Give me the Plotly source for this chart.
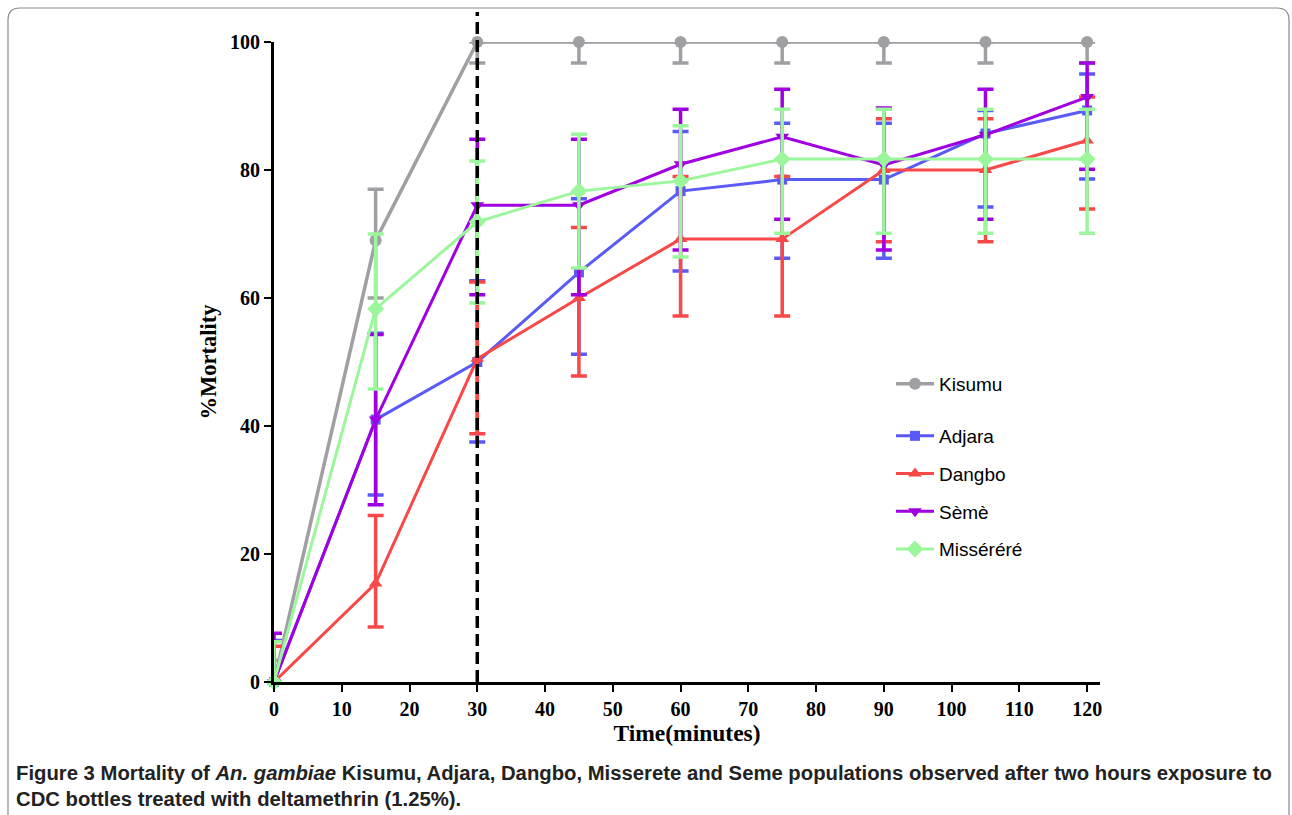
import plotly.graph_objects as go

time_min = [0, 15, 30, 45, 60, 75, 90, 105, 120]

kisumu = [0, 69, 100, 100, 100, 100, 100, 100, 100]
kisumu_hi = [3.4, 77, 100, 100, 100, 100, 100, 100, 100]
kisumu_lo = [0, 60, 96.7, 96.7, 96.7, 96.7, 96.7, 96.7, 96.7]

adjara = [0, 41, 50, 64, 76.7, 78.5, 78.5, 85.7, 89.3]
adjara_hi = [6.5, 54.5, 62.7, 75.5, 86, 87.3, 87.3, 89.3, 95]
adjara_lo = [0, 29.2, 37.5, 51.2, 64.2, 66.2, 66.2, 74.2, 78.6]

dangbo = [0, 15.4, 50.5, 60, 69.2, 69.2, 80, 80, 84.6]
dangbo_hi = [5.6, 26, 62.5, 71, 79, 79, 88, 88, 91.4]
dangbo_lo = [0, 8.6, 38.8, 47.8, 57.2, 57.2, 68.8, 68.8, 73.9]

seme = [0, 41, 74.5, 74.5, 80.9, 85.2, 80.8, 85.5, 91.4]
seme_hi = [7.6, 54.3, 84.8, 84.8, 89.5, 92.6, 89.7, 92.6, 96.7]
seme_lo = [0, 27.7, 60.5, 60.5, 67.5, 72.3, 67.5, 72.3, 80.1]

missere = [0, 58.3, 71.9, 76.7, 78.3, 81.7, 81.7, 81.7, 81.7]
missere_hi = [6.3, 70, 81.4, 85.6, 86.9, 89.5, 89.5, 89.5, 89.5]
missere_lo = [0, 45.8, 59.2, 64.7, 66.4, 70.1, 70.1, 70.1, 70.1]

series = [
    ("Kisumu", kisumu, kisumu_hi, kisumu_lo, "#A0A0A4", "circle", 12, "legend", 3.5),
    ("Adjara", adjara, adjara_hi, adjara_lo, "#5A5AF6", "square", 10, "legend2", 3),
    ("Dangbo", dangbo, dangbo_hi, dangbo_lo, "#F84848", "triangle-up", 12, "legend2", 3),
    ("Sèmè", seme, seme_hi, seme_lo, "#A000E0", "triangle-down", 12, "legend2", 3),
    ("Misséréré", missere, missere_hi, missere_lo, "#9CF79C", "diamond", 13, "legend2", 3),
]

W, H = 1292, 815
L, R, T, B = 274, 192, 42, 133
PW, PH = W - L - R, H - T - B


def px(xp):
    return (xp - L) / PW


def py(yp):
    return (H - B - yp) / PH


fig = go.Figure()
for name, ys, hi, lo, col, sym, sz, leg, lw in series:
    fig.add_trace(go.Scatter(
        x=time_min, y=ys, name=name, mode="lines+markers",
        line=dict(color=col, width=lw),
        marker=dict(symbol=sym, size=sz, color=col),
        error_y=dict(type="data", symmetric=False,
                     array=[h - v for h, v in zip(hi, ys)],
                     arrayminus=[v - l for v, l in zip(ys, lo)],
                     color=col, thickness=3.5, width=8),
        cliponaxis=False, legend=leg, legendgroup=name,
    ))

font_serif = "Liberation Serif"
leg_font = dict(family="Liberation Sans", size=19, color="black")
fig.update_layout(
    width=W, height=H, margin=dict(l=L, r=R, t=T, b=B),
    paper_bgcolor="white", plot_bgcolor="white",
    xaxis=dict(range=[0, 121.9], tickvals=list(range(0, 121, 10)),
               showline=True, linecolor="black", linewidth=3, showgrid=False, zeroline=False,
               ticks="outside", ticklen=7, tickwidth=2, tickcolor="black",
               tickfont=dict(family=font_serif, size=20, color="black", weight="bold"),
               title=dict(text="<b>Time(minutes)</b>", font=dict(family=font_serif, size=23.5, color="black"), standoff=6)),
    yaxis=dict(range=[0, 100], tickvals=[0, 20, 40, 60, 80, 100],
               showline=True, linecolor="black", linewidth=3, showgrid=False, zeroline=False,
               ticks="outside", ticklen=7, tickwidth=2, tickcolor="black",
               tickfont=dict(family=font_serif, size=20, color="black", weight="bold"),
               title=dict(text="<b>%Mortality</b>", font=dict(family=font_serif, size=22.5, color="black"), standoff=8)),
    legend=dict(x=px(891), y=py(384), xanchor="left", yanchor="middle",
                font=leg_font, itemwidth=38, bgcolor="rgba(0,0,0,0)"),
    legend2=dict(x=px(891), y=py(417), xanchor="left", yanchor="top",
                 font=leg_font, itemwidth=38, bgcolor="rgba(0,0,0,0)",
                 traceorder="grouped", tracegroupgap=10),
    showlegend=True,
)

# dashed vertical line at 30 minutes
fig.add_shape(type="line", xref="x", yref="paper", x0=30, x1=30, y0=0, y1=py(12),
              line=dict(color="black", width=3.5, dash="12px,6px"), layer="above")

# rounded frame around the figure
x0, x1, y0, y1, r = px(8), px(1289), py(8), py(840), 12
rx, ry = r / PW, r / PH
path = (f"M {x0 + rx} {y0} L {x1 - rx} {y0} Q {x1} {y0} {x1} {y0 - ry} "
        f"L {x1} {y1 + ry} Q {x1} {y1} {x1 - rx} {y1} L {x0 + rx} {y1} Q {x0} {y1} {x0} {y1 + ry} "
        f"L {x0} {y0 - ry} Q {x0} {y0} {x0 + rx} {y0} Z")
fig.add_shape(type="path", xref="paper", yref="paper", path=path,
              line=dict(color="#8A8A8A", width=1.2), fillcolor="rgba(0,0,0,0)")

caption = ("<b>Figure 3</b> Mortality of <i>An. gambiae</i> Kisumu, Adjara, Dangbo, Misserete and Seme "
           "populations observed after two hours exposure to<br>CDC bottles treated with deltamethrin (1.25%).")
fig.add_annotation(xref="paper", yref="paper", x=px(14), y=py(760), xanchor="left", yanchor="top",
                   text=caption, showarrow=False, align="left",
                   font=dict(family="Liberation Sans", size=20.3, color="#222", weight="bold"))

fig.write_html("out.html", config={"displayModeBar": False},
               post_script="document.body.style.margin='0px';")
